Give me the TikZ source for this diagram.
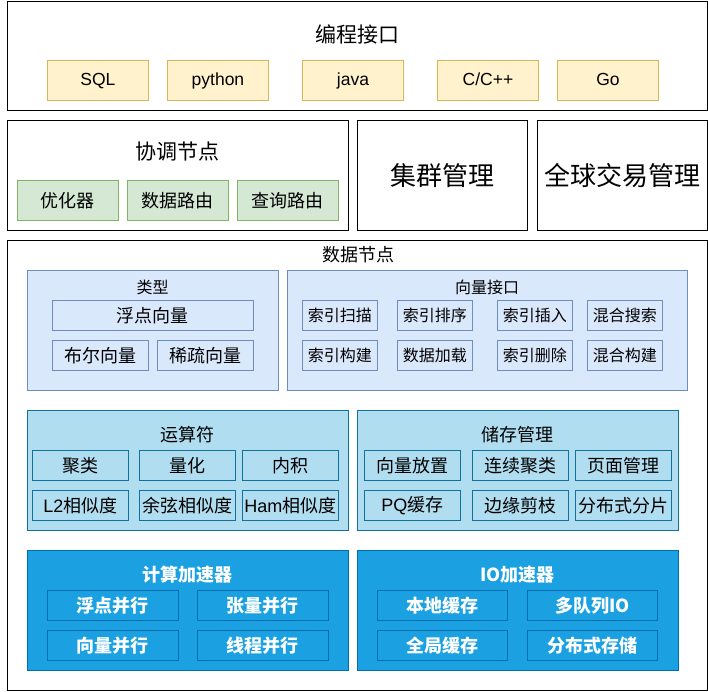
\documentclass[tikz,border=0pt]{standalone}
\usepackage{fontspec}
\setmainfont{Liberation Sans}
\newfontfamily\cjk{Noto Sans CJK SC}
\usepackage{tikz}
\usetikzlibrary{positioning}

\definecolor{langfill}{HTML}{FFF2CC}
\definecolor{langline}{HTML}{D6B656}
\definecolor{coordfill}{HTML}{D5E8D4}
\definecolor{coordline}{HTML}{82B366}
\definecolor{vecfill}{HTML}{DAE8FC}
\definecolor{vecline}{HTML}{6C8EBF}
\definecolor{opfill}{HTML}{B1DDF0}
\definecolor{opline}{HTML}{10739E}
\definecolor{accfill}{HTML}{1BA1E2}
\definecolor{accline}{HTML}{006EAF}

\begin{document}
\begin{tikzpicture}[
  x=1pt, y=-1pt,
  frame/.style={draw=black, line width=1.3pt, fill=white,
    anchor=north west, inner sep=0pt},
  cell/.style={draw, line width=0.9pt, anchor=north west, inner sep=0pt,
    text=black, font=\cjk\fontsize{18}{21}\selectfont},
  lang/.style={cell, fill=langfill, draw=langline,
    minimum width=101pt, minimum height=40pt,
    text height=12.5pt, text depth=2.5pt,
    font=\rmfamily\fontsize{17.5}{21}\selectfont},
  coord/.style={cell, fill=coordfill, draw=coordline,
    minimum width=101pt, minimum height=40pt},
  group/.style={cell, minimum height=120pt},
  vec/.style={cell, fill=vecfill, draw=vecline, minimum height=30pt},
  op/.style={cell, fill=opfill, draw=opline,
    minimum width=96pt, minimum height=30pt},
  acc/.style={cell, fill=accfill, draw=accline, text=white,
    minimum height=30pt, font=\cjk\bfseries\fontsize{18}{21}\selectfont},
  title/.style={text=black, inner sep=0pt, font=\cjk\fontsize{21}{24}\selectfont},
  subtitle/.style={text=black, inner sep=0pt, font=\cjk\fontsize{18}{21}\selectfont},
]
  \useasboundingbox (0,0) rectangle (708,691);

  % Programming interface
  \node[frame, minimum width=700pt, minimum height=109pt] (prog) at (7,1) {};
  \node[title] (progtitle) at (357,34) {编程接口};
  \foreach \name/\x/\txt in {sql/47/SQL, py/167/python, java/302/java,
      cpp/437/{C/C++}, go/557/Go} {
    \node[lang] (lang-\name) at (\x,60) {\txt};
  }

  % Coordinator node
  \node[frame, minimum width=341pt, minimum height=110pt] (coord) at (7,120) {};
  \node[title] (coordtitle) at (177.5,152) {协调节点};
  \node[coord] (optim) at (17,180) {优化器};
  \node[coord] (droute) at (127,180) {数据路由};
  \node[coord] (qroute) at (237,180) {查询路由};

  % Cluster / transaction management
  \node[frame, minimum width=170pt, minimum height=110pt,
    font=\cjk\fontsize{26}{30}\selectfont] (cluster) at (357,120) {集群管理};
  \node[frame, minimum width=170pt, minimum height=110pt,
    font=\cjk\fontsize{26}{30}\selectfont] (trans) at (537,120) {全球交易管理};

  % Data node
  \node[frame, minimum width=700pt, minimum height=450pt] (data) at (7,240) {};
  \node[subtitle] (datatitle) at (358,255) {数据节点};

  % Types
  \node[group, fill=vecfill, draw=vecline, minimum width=251pt] (types) at (27,270) {};
  \node[subtitle, font=\cjk\fontsize{16}{19}\selectfont] (typestitle) at (152.5,287) {类型};
  \node[vec, minimum width=201pt] (float) at (52,300) {浮点向量};
  \node[vec, minimum width=96pt] (bool) at (52,340) {布尔向量};
  \node[vec, minimum width=96pt] (sparse) at (157,340) {稀疏向量};

  % Vector interface
  \node[group, fill=vecfill, draw=vecline, minimum width=400pt] (vecapi) at (287,270) {};
  \node[subtitle, font=\cjk\fontsize{16}{19}\selectfont] (vecapititle) at (487,287) {向量接口};
  \foreach \name/\x/\txt in {scan/302/索引扫描, sort/397/索引排序,
      insert/497/索引插入, hsearch/587/混合搜索} {
    \node[vec, minimum width=75pt, font=\cjk\fontsize{16}{19}\selectfont]
      (api-\name) at (\x,300) {\txt};
  }
  \foreach \name/\x/\txt in {build/302/索引构建, load/397/数据加载,
      delete/497/索引删除, hbuild/587/混合构建} {
    \node[vec, minimum width=75pt, font=\cjk\fontsize{16}{19}\selectfont]
      (api-\name) at (\x,340) {\txt};
  }

  % Operators
  \node[group, fill=opfill, draw=opline, minimum width=321pt] (ops) at (27,410) {};
  \node[subtitle] (opstitle) at (187.5,435) {运算符};
  \node[op] (cluster-op) at (32,450) {聚类};
  \node[op] (quant) at (139,450) {量化};
  \node[op] (inner) at (242,450) {内积};
  \node[op] (l2sim) at (32,490) {{\rmfamily L2}相似度};
  \node[op] (cossim) at (139,490) {余弦相似度};
  \node[op] (hamsim) at (242,490) {{\rmfamily Ham}相似度};

  % Storage management
  \node[group, fill=opfill, draw=opline, minimum width=321pt] (store) at (357,410) {};
  \node[subtitle] (storetitle) at (517.5,435) {储存管理};
  \node[op] (place) at (364,450) {向量放置};
  \node[op] (contig) at (472,450) {连续聚类};
  \node[op] (page) at (575,450) {页面管理};
  \node[op] (pqcache) at (364,490) {{\rmfamily PQ}缓存};
  \node[op] (prune) at (472,490) {边缘剪枝};
  \node[op] (shard) at (575,490) {分布式分片};

  % Compute accelerator
  \node[group, fill=accfill, draw=accline, minimum width=321pt] (comp) at (27,550) {};
  \node[subtitle, text=white, font=\cjk\bfseries\fontsize{18}{21}\selectfont]
    (comptitle) at (187.5,575) {计算加速器};
  \node[acc, minimum width=131pt] (fpar) at (47,590) {浮点并行};
  \node[acc, minimum width=131pt] (tpar) at (197,590) {张量并行};
  \node[acc, minimum width=131pt] (vpar) at (47,630) {向量并行};
  \node[acc, minimum width=131pt] (thpar) at (197,630) {线程并行};

  % IO accelerator
  \node[group, fill=accfill, draw=accline, minimum width=321pt] (io) at (357,550) {};
  \node[subtitle, text=white, font=\cjk\bfseries\fontsize{18}{21}\selectfont]
    (iotitle) at (517.5,575) {IO加速器};
  \node[acc, minimum width=130pt] (lcache) at (377,590) {本地缓存};
  \node[acc, minimum width=130pt] (mqio) at (527,590) {多队列IO};
  \node[acc, minimum width=130pt] (gcache) at (377,630) {全局缓存};
  \node[acc, minimum width=130pt] (dstore) at (527,630) {分布式存储};
\end{tikzpicture}
\end{document}
